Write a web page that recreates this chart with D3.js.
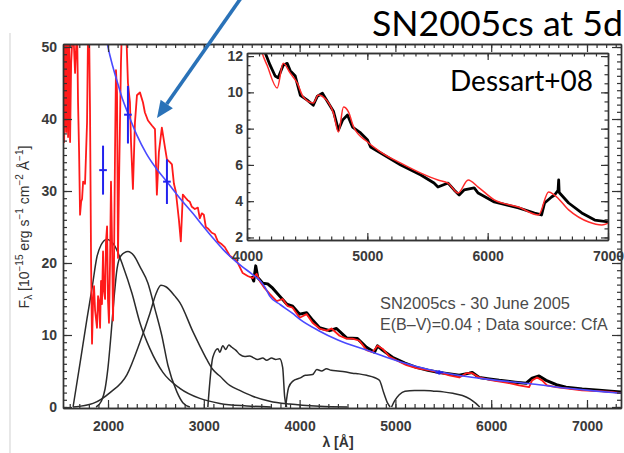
<!DOCTYPE html>
<html><head><meta charset="utf-8">
<script src="https://cdn.jsdelivr.net/npm/d3@7"></script>
<style>html,body{margin:0;padding:0;background:#fff;}svg{display:block;}</style>
</head><body>
<svg id="c" width="624" height="453"></svg>
<script>
// ---------------- DATA ----------------
// main panel: wavelength (Å), flux (1e-15 erg/s/cm2/Å)
const modelSpectrum = [[1531,53],[1542,36.8],[1552,53],[1563,38.2],[1573,53],[1583,37.5],[1594,53],[1604,36.8],[1615,47.8],[1635,53],[1656,46.4],[1677,53],[1687,42.3],[1698,35.4],[1708,26.7],[1719,28.5],[1729,28.9],[1740,31.3],[1760,31.0],[1771,35.4],[1781,39.5],[1792,53],[1802,53],[1812,41.3],[1823,20.2],[1833,8.8],[1844,14.7],[1854,16.8],[1865,13.4],[1885,11.0],[1896,15.4],[1906,14.7],[1917,11.0],[1927,17.5],[1937,14.3],[1948,21.6],[1958,16.1],[1969,15.0],[1979,23.0],[1990,25.1],[2000,14.7],[2010,11.7],[2021,20.2],[2031,31.3],[2042,23.0],[2052,12.0],[2062,19.1],[2073,35.4],[2083,46.8],[2094,43.7],[2104,20.7],[2115,31.3],[2135,47.8],[2146,53],[2167,53],[2188,53],[2208,45.0],[2229,42.3],[2240,36.8],[2260,30.3],[2281,39.5],[2302,43.3],[2333,43.7],[2365,42.3],[2385,40.9],[2417,39.8],[2458,39.1],[2490,38.6],[2510,29.5],[2531,35.4],[2562,38.8],[2594,36.1],[2615,34.4],[2646,34.0],[2667,33.7],[2688,31.0],[2708,29.9],[2740,26.0],[2760,23.0],[2781,29.5],[2813,29.0],[2833,28.7],[2854,28.5],[2875,27.8],[2906,27.5],[2938,27.7],[2958,26.2],[2979,26.9],[3000,26.7],[3021,25.0],[3042,24.8],[3083,24.2],[3115,24.0],[3146,23.0],[3188,22.6],[3219,22.2],[3271,21.0],[3344,20.3],[3406,18.6],[3458,18.2],[3510,17.9],[3552,18.5],[3583,17.5],[3635,16.5],[3688,15.7],[3760,14.7],[3823,15.0],[3875,14.0],[3927,13.8],[4000,12.4],[4073,12.9],[4135,11.7],[4208,10.9],[4281,10.6],[4333,10.9],[4417,9.9],[4490,9.5],[4552,9.5],[4625,9.2],[4698,7.9],[4760,7.6],[4813,8.5],[4865,8.1],[4938,7.0],[5010,6.5],[5115,5.8],[5219,5.4],[5354,5.1],[5458,4.8],[5563,4.4],[5667,4.1],[5740,4.7],[5802,4.7],[5875,4.1],[6010,3.7],[6156,3.4],[6292,3.0],[6396,2.75],[6427,3.7],[6479,4.1],[6531,3.7],[6583,3.0],[6677,2.75],[6781,2.6],[6948,2.3],[7125,2.2],[7250,2.1],[7365,1.9]];
const observedSpectrum = [[3500,18.2],[3521,17.5],[3542,19.6],[3563,18.0],[3615,17.2],[3667,17.1],[3719,16.5],[3792,15.4],[3865,14.3],[3927,14.0],[4000,12.9],[4073,13.1],[4140,12.0],[4208,11.0],[4313,10.6],[4385,10.9],[4490,9.6],[4604,9.5],[4698,8.3],[4781,7.6],[4813,8.5],[4865,7.9],[4969,6.9],[5100,6.1],[5219,5.5],[5340,5.1],[5458,4.8],[5667,4.4],[5771,4.7],[5802,4.8],[5875,4.1],[5980,3.9],[6083,3.7],[6250,3.45],[6365,3.3],[6427,4.0],[6500,4.3],[6573,3.7],[6680,3.1],[6781,2.75],[6950,2.5],[7125,2.34],[7250,2.2],[7365,2.07]];
const continuum = [[1950,54],[2000,50.0],[2050,47.3],[2100,45.0],[2150,42.8],[2208,40.8],[2300,37.8],[2400,35.2],[2500,33.2],[2615,31.3],[2750,29.0],[2885,26.9],[3000,25.0],[3100,23.4],[3200,21.9],[3300,20.6],[3400,19.5],[3500,18.5],[3583,17.6],[3640,16.6],[3688,15.4],[3800,14.2],[3927,13.0],[4000,12.2],[4200,10.6],[4400,9.3],[4698,7.9],[5000,6.5],[5200,5.7],[5458,4.9],[5700,4.3],[6000,3.8],[6427,3.2],[6800,2.6],[7100,2.2],[7365,1.9]];
const photLam  = [1948, 2208, 2615, 5458];
const photFlux = [32.9, 40.6, 31.3, 4.8];
const photErr  = [3.4, 4.0, 3.1, 0.3];
const photLamErr = [40, 40, 40, 40];
// filter response curves (scaled)
const filterUVW2 = [[1635,0],[1708,6.1],[1781,12.3],[1833,16.5],[1885,20.9],[1927,22.5],[1958,23.1],[1990,23.3],[2021,23.1],[2073,22.3],[2156,19.6],[2250,15.8],[2333,11.7],[2437,8.1],[2573,4.8],[2750,2.6],[2958,1.2],[3167,0.5],[3448,0.15],[3700,0]];
const filterUVM2 = [[1875,0],[1930,0.8],[1969,2.5],[2000,5.5],[2031,10.0],[2062,15.0],[2094,19.2],[2135,21.0],[2208,21.6],[2271,21.0],[2333,19.5],[2417,17.2],[2490,13.6],[2562,9.9],[2625,5.8],[2719,2.1],[2781,0.6],[2854,0]];
const filterUVW1 = [[1635,0],[1844,0.5],[2021,2.0],[2198,4.5],[2333,9.0],[2437,13.0],[2500,15.7],[2552,16.9],[2604,16.7],[2698,15.4],[2750,14.5],[2885,10.5],[2958,8.5],[3031,6.6],[3094,5.2],[3167,4.3],[3271,3.0],[3375,2.3],[3510,1.5],[3688,0.8],[3896,0.4],[4208,0.1],[4500,0]];
const filterU = [[3042,0],[3094,6.9],[3146,8.1],[3167,7.6],[3198,8.5],[3229,8.0],[3260,8.6],[3292,8.3],[3333,7.9],[3375,7.3],[3427,7.0],[3479,7.1],[3510,6.9],[3563,6.6],[3615,6.8],[3656,6.5],[3708,6.8],[3750,6.6],[3792,6.7],[3823,5.5],[3844,1.4],[3865,0]];
const filterB = [[3854,0],[3885,2.7],[3930,3.6],[4000,4.0],[4060,4.4],[4135,4.5],[4180,5.2],[4230,5.0],[4280,5.3],[4330,5.1],[4400,5.0],[4470,4.9],[4550,4.7],[4620,4.6],[4700,4.4],[4780,4.1],[4833,3.7],[4880,1.9],[4920,0.5],[4945,0]];
const filterV = [[4960,0],[4990,0.8],[5040,1.7],[5100,2.2],[5200,2.3],[5300,2.3],[5400,2.2],[5500,2.1],[5600,1.9],[5700,1.6],[5780,1.1],[5840,0.5],[5880,0]];
// inset (Dessart+08 model vs observed)
const insetObserved = [[4130,12.6],[4150,12.2],[4192,11.5],[4234,10.9],[4259,10.8],[4301,11.5],[4334,11.6],[4359,11.2],[4401,10.9],[4443,9.84],[4501,9.57],[4551,9.29],[4585,9.79],[4627,9.95],[4652,9.68],[4718,8.96],[4760,7.92],[4794,8.47],[4835,8.75],[4877,8.09],[4944,7.76],[5002,7.37],[5027,6.99],[5111,6.66],[5278,5.99],[5445,5.44],[5554,5.0],[5587,4.78],[5671,5.0],[5721,4.62],[5763,4.34],[5804,4.62],[5888,4.73],[5921,4.45],[6055,3.96],[6256,3.63],[6389,3.35],[6448,3.24],[6473,3.9],[6531,4.23],[6556,4.34],[6585,4.6],[6590,5.17],[6594,4.5],[6598,4.45],[6673,3.9],[6782,3.35],[6890,2.96],[7007,2.85]];
const insetModel = [[4110,12.6],[4125,12.2],[4167,11.49],[4251,10.24],[4301,11.6],[4359,11.06],[4418,10.51],[4468,9.74],[4551,9.41],[4593,9.85],[4635,9.74],[4718,8.86],[4760,7.81],[4802,9.19],[4844,8.91],[4886,8.09],[5002,7.26],[5111,6.71],[5278,6.1],[5445,5.55],[5587,5.17],[5671,5.0],[5754,4.45],[5838,5.17],[5921,4.78],[6055,4.07],[6256,3.68],[6423,3.24],[6506,4.51],[6556,4.34],[6673,3.52],[6840,2.85],[6949,2.69],[7007,2.8]];
// ticks and labels
const mainXTicks = [2000,3000,4000,5000,6000,7000];
const mainYTicks = [0,10,20,30,40,50];
const insetXTicks = [4000,5000,6000,7000];
const insetYTicks = [2,4,6,8,10,12];
const titleText = "SN2005cs at 5d";
const refText = "Dessart+08";
const noteLines = ["SN2005cs  -  30 June 2005", "E(B\u2013V)=0.04  ; Data source: CfA"];

// ---------------- DRAW ----------------
const svg = d3.select("#c");
const FONT = "'Liberation Sans', Arial, sans-serif";
function fitText(sel, target){
  const w = sel.node().getComputedTextLength();
  const fs = parseFloat(sel.attr("font-size"));
  sel.attr("font-size", (fs*target/w).toFixed(2)+"px");
}

// page border line
svg.append("line").attr("x1",10).attr("x2",10).attr("y1",33).attr("y2",453)
  .attr("stroke","#d8d8d8").attr("stroke-width",1.2);

const M = {l:63, r:621, t:44, b:408};
const x = d3.scaleLinear().domain([1530,7355]).range([M.l,M.r]);
const y = d3.scaleLinear().domain([-0.14,50.42]).range([M.b,M.t]);

const defs = svg.append("defs");
defs.append("clipPath").attr("id","mainclip").append("rect")
  .attr("x",M.l).attr("y",M.t).attr("width",M.r-M.l).attr("height",M.b-M.t);

const line = d3.line().x(d=>x(d[0])).y(d=>y(d[1]));
const gm = svg.append("g").attr("clip-path","url(#mainclip)");

[filterUVW2,filterUVM2,filterUVW1,filterU,filterB,filterV].forEach(f=>{
  gm.append("path").datum(f).attr("d",line.curve(d3.curveMonotoneX))
    .attr("fill","none").attr("stroke","#2b2b2b").attr("stroke-width",1.5);
});
line.curve(d3.curveLinear);
gm.append("path").datum(observedSpectrum).attr("d",line)
  .attr("fill","none").attr("stroke","#000").attr("stroke-width",3).attr("stroke-linejoin","round");
gm.append("path").datum(modelSpectrum).attr("d",line)
  .attr("fill","none").attr("stroke","#ff1a1a").attr("stroke-width",1.8).attr("stroke-linejoin","round");
gm.append("path").datum(continuum).attr("d",d3.line().x(d=>x(d[0])).y(d=>y(d[1])).curve(d3.curveMonotoneX))
  .attr("fill","none").attr("stroke","#4a4aff").attr("stroke-width",1.6);
photLam.forEach((l,i)=>{
  gm.append("line").attr("x1",x(l)).attr("x2",x(l)).attr("y1",y(photFlux[i]-photErr[i])).attr("y2",y(photFlux[i]+photErr[i]))
    .attr("stroke","#2222ee").attr("stroke-width",2);
  gm.append("line").attr("x1",x(l-photLamErr[i])).attr("x2",x(l+photLamErr[i])).attr("y1",y(photFlux[i])).attr("y2",y(photFlux[i]))
    .attr("stroke","#2222ee").attr("stroke-width",2);
});

function styleAxis(g){
  g.selectAll("path.domain").attr("stroke","#333").attr("stroke-width",1.4);
  g.selectAll(".tick line").attr("stroke","#333").attr("stroke-width",1.2);
  g.selectAll("text").attr("font-family",FONT).attr("font-weight","bold").attr("font-size","14px").attr("fill","#3a3a3a");
}
const fmt = d3.format("d");
// main axes
const minorX = d3.range(1600,7400,100).filter(v=>v<=7355);
const minorY = d3.range(0,51,1);
svg.append("g").attr("transform",`translate(0,${M.b})`).call(d3.axisBottom(x).tickValues(minorX).tickSize(-4).tickSizeOuter(0).tickFormat("")).call(styleAxis);
svg.append("g").attr("transform",`translate(0,${M.b})`).call(d3.axisBottom(x).tickValues(mainXTicks).tickSize(-8).tickSizeOuter(0).tickPadding(13).tickFormat(fmt)).call(styleAxis);
svg.append("g").attr("transform",`translate(0,${M.t})`).call(d3.axisTop(x).tickValues(minorX).tickSize(-4).tickSizeOuter(0).tickFormat("")).call(styleAxis);
svg.append("g").attr("transform",`translate(0,${M.t})`).call(d3.axisTop(x).tickValues(mainXTicks).tickSize(-8).tickSizeOuter(0).tickFormat("")).call(styleAxis);
svg.append("g").attr("transform",`translate(${M.l},0)`).call(d3.axisLeft(y).tickValues(minorY).tickSize(-4).tickSizeOuter(0).tickFormat("")).call(styleAxis);
svg.append("g").attr("transform",`translate(${M.l},0)`).call(d3.axisLeft(y).tickValues(mainYTicks).tickSize(-9).tickSizeOuter(0).tickPadding(6).tickFormat(fmt)).call(styleAxis);
svg.append("g").attr("transform",`translate(${M.r},0)`).call(d3.axisRight(y).tickValues(minorY).tickSize(-4).tickSizeOuter(0).tickFormat("")).call(styleAxis);
svg.append("g").attr("transform",`translate(${M.r},0)`).call(d3.axisRight(y).tickValues(mainYTicks).tickSize(-9).tickSizeOuter(0).tickFormat("")).call(styleAxis);

// axis titles
svg.append("text").attr("x",338).attr("y",447).attr("text-anchor","middle")
  .attr("font-family",FONT).attr("font-weight","bold").attr("font-size","14px").attr("fill","#333").text("\u03bb [\u00c5]");
const yl = svg.append("text").attr("transform","translate(29,227) rotate(-90)").attr("text-anchor","middle")
  .attr("font-family",FONT).attr("font-size","14px").attr("fill","#333");
yl.append("tspan").text("F");
yl.append("tspan").attr("dy",3).attr("font-size","10px").text("\u03bb");
yl.append("tspan").attr("dy",-3).text(" [10");
yl.append("tspan").attr("dy",-6).attr("font-size","10px").text("\u221215");
yl.append("tspan").attr("dy",6).text(" erg s");
yl.append("tspan").attr("dy",-6).attr("font-size","10px").text("\u22121");
yl.append("tspan").attr("dy",6).text(" cm");
yl.append("tspan").attr("dy",-6).attr("font-size","10px").text("\u22122");
yl.append("tspan").attr("dy",6).text(" \u00c5");
yl.append("tspan").attr("dy",-6).attr("font-size","10px").text("\u22121");
yl.append("tspan").attr("dy",6).text("]");

// notes
const noteW = [190, 228];
noteLines.forEach((t,i)=>{
  const s = svg.append("text").attr("x",380).attr("y",[309,330][i]).attr("font-family",FONT)
    .attr("font-size","14px").attr("fill","#4a4a4a").text(t);
  fitText(s, noteW[i]);
});

// ---------------- INSET ----------------
const I = {l:247, r:608, t:53, b:240};
const xi = d3.scaleLinear().domain([4000,7000]).range([I.l,I.r]);
const yi = d3.scaleLinear().domain([1.86,12.17]).range([I.b,I.t]);
svg.append("rect").attr("x",I.l).attr("y",I.t).attr("width",I.r-I.l).attr("height",I.b-I.t).attr("fill","#fff");
defs.append("clipPath").attr("id","insclip").append("rect")
  .attr("x",I.l).attr("y",I.t).attr("width",I.r-I.l).attr("height",I.b-I.t);
const gi = svg.append("g").attr("clip-path","url(#insclip)");
const li = d3.line().x(d=>xi(d[0])).y(d=>yi(d[1]));
gi.append("path").datum(insetObserved).attr("d",li).attr("fill","none").attr("stroke","#000").attr("stroke-width",2.8).attr("stroke-linejoin","round");
gi.append("path").datum(insetModel).attr("d",li.curve(d3.curveMonotoneX)).attr("fill","none").attr("stroke","#ff2a2a").attr("stroke-width",1.5);

const iminX = d3.range(4000,7001,100);
const iminY = d3.range(2,12.01,0.5);
svg.append("g").attr("transform",`translate(0,${I.b})`).call(d3.axisBottom(xi).tickValues(iminX).tickSize(-3.5).tickSizeOuter(0).tickFormat("")).call(styleAxis);
svg.append("g").attr("transform",`translate(0,${I.b})`).call(d3.axisBottom(xi).tickValues(insetXTicks).tickSize(-7).tickSizeOuter(0).tickPadding(11).tickFormat(fmt)).call(styleAxis);
svg.append("g").attr("transform",`translate(0,${I.t})`).call(d3.axisTop(xi).tickValues(iminX).tickSize(-3.5).tickSizeOuter(0).tickFormat("")).call(styleAxis);
svg.append("g").attr("transform",`translate(0,${I.t})`).call(d3.axisTop(xi).tickValues(insetXTicks).tickSize(-7).tickSizeOuter(0).tickFormat("")).call(styleAxis);
svg.append("g").attr("transform",`translate(${I.l},0)`).call(d3.axisLeft(yi).tickValues(iminY).tickSize(-3.5).tickSizeOuter(0).tickFormat("")).call(styleAxis);
svg.append("g").attr("transform",`translate(${I.l},0)`).call(d3.axisLeft(yi).tickValues(insetYTicks).tickSize(-7).tickSizeOuter(0).tickPadding(4).tickFormat(fmt)).call(styleAxis);
svg.append("g").attr("transform",`translate(${I.r},0)`).call(d3.axisRight(yi).tickValues(iminY).tickSize(-3.5).tickSizeOuter(0).tickFormat("")).call(styleAxis);
svg.append("g").attr("transform",`translate(${I.r},0)`).call(d3.axisRight(yi).tickValues(insetYTicks).tickSize(-7).tickSizeOuter(0).tickFormat("")).call(styleAxis);

// ---------------- TITLE / LABELS ----------------
const TF = "Lato, 'Open Sans', sans-serif";
const t1 = svg.append("text").attr("x",372).attr("y",36).attr("font-family",TF).attr("font-size","35px").attr("fill","#000").text(titleText);
fitText(t1, 251);
const t2 = svg.append("text").attr("x",450).attr("y",91).attr("font-family",TF).attr("font-size","28px").attr("fill","#000").text(refText);
fitText(t2, 143);

// arrow
const tip = [157,118], tail = [241,-2];
const dx = tip[0]-tail[0], dy = tip[1]-tail[1], L = Math.hypot(dx,dy);
const ux = dx/L, uy = dy/L, hl = 17, hw = 7.5;
const bx = tip[0]-hl*ux, by = tip[1]-hl*uy;
svg.append("line").attr("x1",tail[0]).attr("y1",tail[1]).attr("x2",bx).attr("y2",by)
  .attr("stroke","#2a72b8").attr("stroke-width",3.6);
svg.append("path").attr("d",`M${tip[0]},${tip[1]}L${bx-uy*hw},${by+ux*hw}L${bx+uy*hw},${by-ux*hw}Z`).attr("fill","#2a72b8");
</script>
</body></html>
